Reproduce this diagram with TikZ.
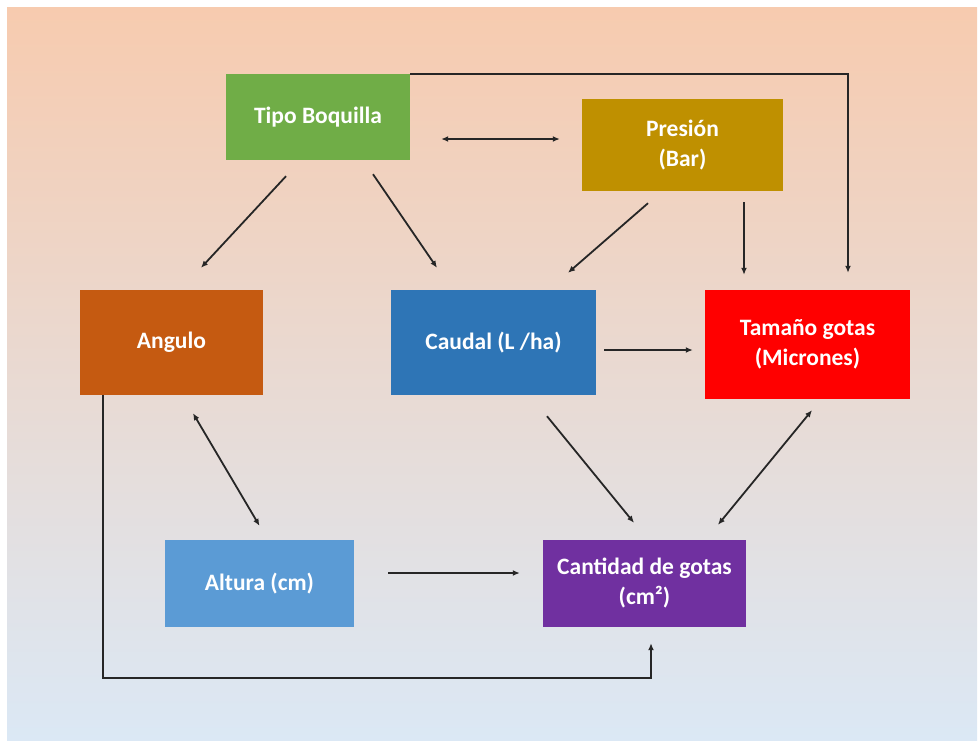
\documentclass[tikz,border=0pt]{standalone}
\usepackage{fontspec}
\setmainfont{Carlito}
\usetikzlibrary{arrows.meta}
\usetikzlibrary{calc}

\definecolor{bgtop}{HTML}{F7CBAF}
\definecolor{bgmid}{HTML}{EBDDD4}
\definecolor{bgbot}{HTML}{DBE8F5}
\definecolor{cTipo}{HTML}{70AD47}
\definecolor{cPresion}{HTML}{BF9000}
\definecolor{cAngulo}{HTML}{C55A11}
\definecolor{cCaudal}{HTML}{2E75B6}
\definecolor{cTamano}{HTML}{FF0000}
\definecolor{cAltura}{HTML}{5B9BD5}
\definecolor{cCantidad}{HTML}{7030A0}
\definecolor{lineas}{HTML}{262626}

\begin{document}
\begin{tikzpicture}[x=1pt,y=-1pt,
	box/.style={rectangle, inner sep=0pt, align=center, text=white,
		font=\fontsize{23.5}{30}\selectfont\bfseries},
	arr/.style={draw=lineas, line width=1.8pt, -{Latex[length=7pt,width=6pt]}},
	darr/.style={draw=lineas, line width=1.8pt, {Latex[length=7pt,width=6pt]}-{Latex[length=7pt,width=6pt]}}]
	\useasboundingbox (0,0) rectangle (978,740);
	\shade[top color=bgtop, middle color=bgmid, bottom color=bgbot] (7,7) rectangle (977,740);

	\node[box, fill=cTipo, minimum width=184pt, minimum height=86pt] (tipo) at (318, 117) {Tipo Boquilla};
	\node[box, fill=cPresion, minimum width=201pt, minimum height=92pt] (presion) at (682.5, 145) {Presión\\(Bar)};
	\node[box, fill=cAngulo, minimum width=183pt, minimum height=105pt] (angulo) at (171.5, 342.5) {Angulo};
	\node[box, fill=cCaudal, minimum width=205pt, minimum height=105pt] (caudal) at (493.5, 342.5) {Caudal (L /ha)};
	\node[box, fill=cTamano, minimum width=205pt, minimum height=109pt] (tamano) at (807.5, 344.5) {Tamaño gotas\\(Micrones)};
	\node[box, fill=cAltura, minimum width=189pt, minimum height=87pt] (altura) at (259.5, 583.5) {Altura (cm)};
	\node[box, fill=cCantidad, minimum width=203pt, minimum height=87pt] (cantidad) at (644.5, 583.5) {Cantidad de gotas\\(cm²)};

	\draw[darr] ($(tipo.east)+(31,22)$) -- ($(presion.west)+(-22,-6)$);
	\draw[arr] ($(tipo.south)+(-32,16)$) -- ($(angulo.north)+(29.5,-22)$);
	\draw[arr] ($(tipo.south)+(55,14)$) -- ($(caudal.north)+(-56.5,-22)$);
	\draw[arr] ($(presion.south)+(-34.5,12)$) -- ($(caudal.north)+(74.5,-17)$);
	\draw[arr] ($(presion.south)+(61.5,11)$) -- ($(tamano.north)+(-63.5,-15)$);
	\draw[arr] (tipo.north east) -| ($(tamano.north)+(40.5,-17)$);

	\draw[arr] ($(caudal.east)+(8,7.5)$) -- ($(tamano.west)+(-12,5.5)$);

	\draw[darr] ($(angulo.south)+(21.5,18)$) -- ($(altura.north)+(0,-14)$);
	\draw[arr] ($(caudal.south)+(53.5,21)$) -- ($(cantidad.north)+(-10.5,-17)$);
	\draw[darr] ($(tamano.south)+(4.5,11)$) -- ($(cantidad.north)+(73.5,-15)$);
	\draw[arr] ($(altura.east)+(34,-10.5)$) -- ($(cantidad.west)+(-23,-10.5)$);

	%\draw[arr] (angulo.south) |- (cantidad.south);
	\draw[arr] ($(angulo.south west)+(23,0)$) |- ($(cantidad.south)+(6.5,51)$) -- ($(cantidad.south)+(6.5,16)$);
\end{tikzpicture}
\end{document}
